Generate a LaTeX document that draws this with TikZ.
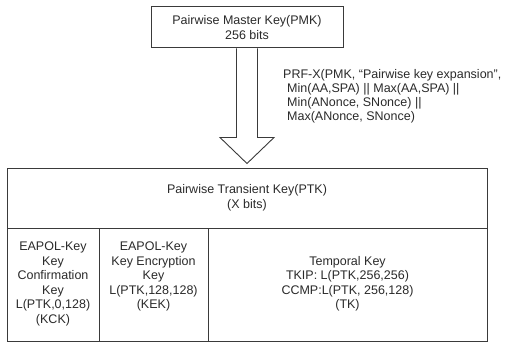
\documentclass[tikz,border=0pt]{standalone}
\usepackage{fontspec}
\setmainfont{Liberation Sans}
\usetikzlibrary{calc}
\definecolor{linec}{HTML}{3A3A3A}
\definecolor{textc}{HTML}{2A2A2A}
\tikzset{
  box/.style={draw=linec, line width=1pt, rectangle, inner sep=0pt, text=textc,
    align=center, font=\fontsize{12.5}{14.5}\selectfont},
  txt/.style={inner sep=0pt, text=textc, font=\fontsize{12.5}{14.5}\selectfont},
  blockarrow/.style={draw=linec, line width=0.9pt, fill=white, line join=miter}
}
\begin{document}
\begin{tikzpicture}[x=1pt,y=-1pt]
\useasboundingbox (0,0) rectangle (511,342);
% PMK
\node[box, minimum width=192pt, minimum height=41pt] (pmk) at (247,27.5)
  {Pairwise Master Key(PMK)\\256 bits};
% PTK
\node[box, minimum width=480pt, minimum height=60pt] (ptk) at (247,198)
  {Pairwise Transient Key(PTK)\\(X bits)};
% bottom cells
\node[box, minimum width=92pt, minimum height=113pt] (kck) at (53,284.5) {};
\node[box, minimum width=109pt, minimum height=113pt] (kek) at (153.5,284.5) {};
\node[box, minimum width=279pt, minimum height=113pt] (tk) at (347.5,284.5) {};
\node[txt, align=center] (kcktxt) at (53,284)
  {EAPOL-Key\\Key\\Confirmation\\Key\\L(PTK,0,128)\\(KCK)};
\node[txt, align=center] (kektxt) at (153.5,276.5)
  {EAPOL-Key\\Key Encryption\\Key\\L(PTK,128,128)\\(KEK)};
\node[txt, align=center] (tktxt) at (347.5,284)
  {Temporal Key\\TKIP: L(PTK,256,256)\\CCMP:L(PTK, 256,128)\\(TK)};
% block arrow from PMK to PTK
\coordinate (tip) at ($(ptk.north)+(0,-4)$);
\draw[blockarrow] ($(pmk.south)+(-10.5,0)$) -- ++(0,89) -- ++(-16.5,0)
  -- (tip) -- ($(pmk.south)+(27,89)$) -- ++(-16.5,0) -- ($(pmk.south)+(10.5,0)$);
% derivation label
\node[txt, align=left, anchor=west, font=\fontsize{12.5}{14}\selectfont] (prf) at (283,96)
  {PRF-X(PMK, “Pairwise key expansion”,\\
   \hspace*{4pt}Min(AA,SPA) || Max(AA,SPA) ||\\
   \hspace*{4pt}Min(ANonce, SNonce) ||\\
   \hspace*{4pt}Max(ANonce, SNonce)};
\end{tikzpicture}
\end{document}
